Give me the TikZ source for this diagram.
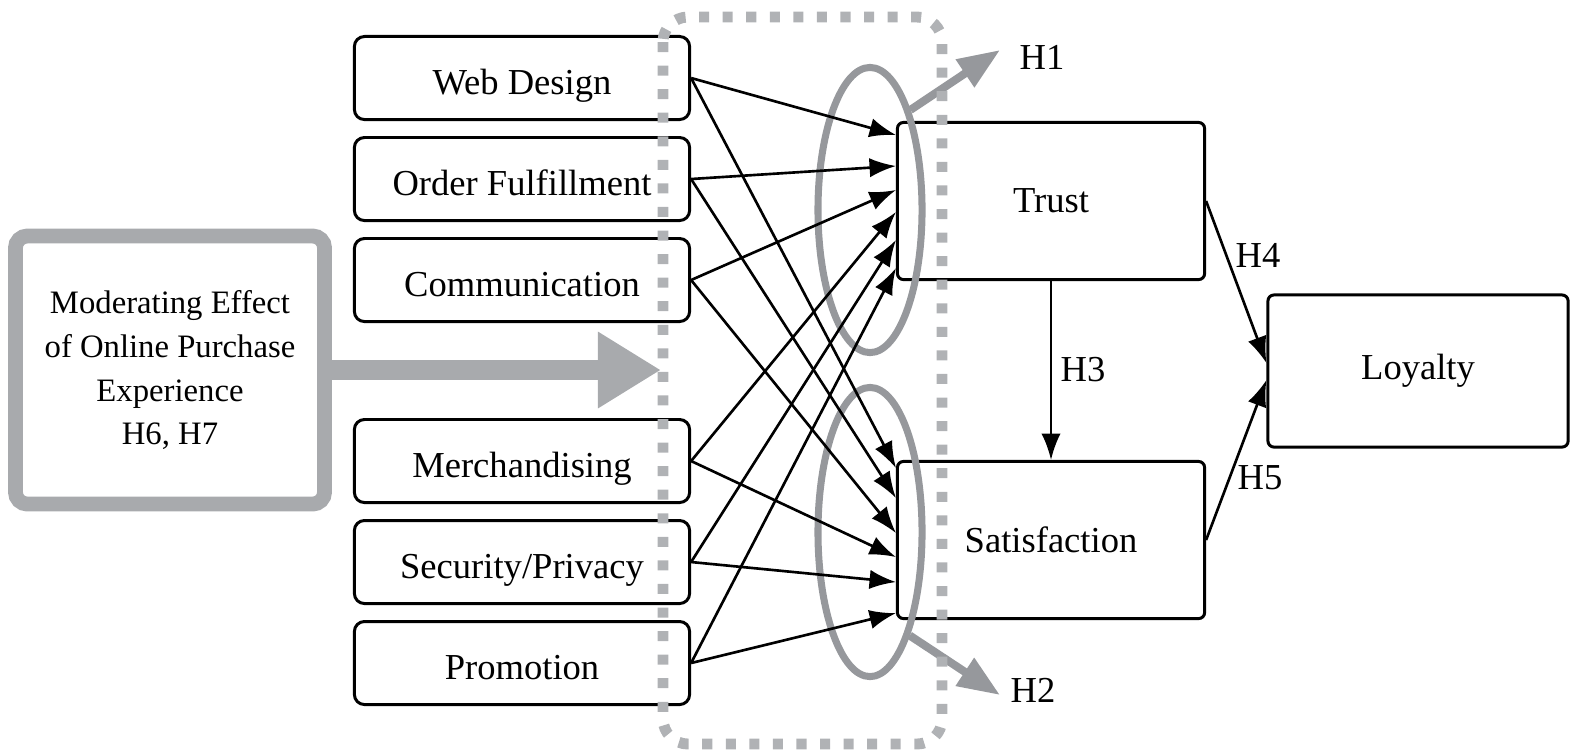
\documentclass[tikz,border=0pt]{standalone}
\usepackage{fontspec}
\setmainfont{Liberation Serif}
\usepackage{tikz}
\usetikzlibrary{calc, arrows.meta, shapes.geometric}
\usepackage{xcolor}
\definecolor{ovalgray}{RGB}{150,152,156}
\definecolor{dotgray}{RGB}{176,178,181}
\definecolor{modgray}{RGB}{168,170,173}

\begin{document}
\begin{tikzpicture}[x=0.01cm, y=-0.01cm, font=\fontsize{10.4}{12.5}\selectfont,
    factor/.style={draw, line width=0.85pt, rounded corners=0.1cm, minimum width=3.35cm, minimum height=0.83cm,
        inner sep=0pt, text height=9.4pt, text depth=0pt},
    construct/.style={draw, line width=0.85pt, rounded corners=0.06cm, minimum width=3.07cm, minimum height=1.57cm},
    link/.style={line width=0.75pt, -{Latex[length=7.5pt, width=5.5pt]}},
    oval/.style={draw=ovalgray, line width=2pt, ellipse, minimum width=1.04cm, minimum height=2.85cm, inner sep=0pt},
    hyp/.style={draw=ovalgray, line width=2.3pt, -{Triangle[length=12pt, width=9pt]}}]
    \useasboundingbox (0,0) rectangle (1571,750);

    \node[factor] (web) at (522,78) {Web Design};
    \node[factor] (order) at (522,179) {Order Fulfillment};
    \node[factor] (comm) at (522,280) {Communication};
    \node[factor] (merch) at (522,461) {Merchandising};
    \node[factor] (secur) at (522,562) {Security/Privacy};
    \node[factor] (promo) at (522,663) {Promotion};

    \node[construct] (trust) at (1051,201) {Trust};
    \node[construct] (satis) at (1051,540) {Satisfaction};
    \node[construct, minimum width=3.0cm, minimum height=1.52cm] (loyal) at (1418,371) {Loyalty};

    \node[draw=modgray, line width=4.2pt, rounded corners=0.12cm, minimum width=3.09cm, minimum height=2.68cm,
        align=center, font=\fontsize{9.3}{12.5}\selectfont] (moder) at (170,370)
        {Moderating Effect\\of Online Purchase\\Experience\\H6, H7};

    \node[oval] (ovtrust) at (870,210) {};
    \node[oval, minimum height=2.89cm] (ovsatis) at (870,532) {};

    \node (h1) at (1042,57) {H1};
    \node (h2) at (1033,690) {H2};
    \node (h3) at (1083,370) {H3};
    \node (h4) at (1258,255) {H4};
    \node (h5) at (1260,478) {H5};

    \coordinate (h1tip) at (1000,50);
    \coordinate (h2tip) at (1000,695);
    \coordinate (modtip) at (661,370);

    \draw[link] (web.east) -- ([yshift=0.66cm]trust.west);
    \draw[link] (order.east) -- ([yshift=0.35cm]trust.west);
    \draw[link] (comm.east) -- ([yshift=0.11cm]trust.west);
    \draw[link] (merch.east) -- ([yshift=-0.11cm]trust.west);
    \draw[link] (secur.east) -- ([yshift=-0.39cm]trust.west);
    \draw[link] (promo.east) -- ([yshift=-0.67cm]trust.west);

    \draw[link] (web.east) -- ([yshift=0.72cm]satis.west);
    \draw[link] (order.east) -- ([yshift=0.42cm]satis.west);
    \draw[link] (comm.east) -- ([yshift=0.07cm]satis.west);
    \draw[link] (merch.east) -- ([yshift=-0.17cm]satis.west);
    \draw[link] (secur.east) -- ([yshift=-0.42cm]satis.west);
    \draw[link] (promo.east) -- ([yshift=-0.73cm]satis.west);

    \draw[link] (trust.south) -- (satis.north);
    \draw[link] (trust.east) -- ([yshift=0.08cm]loyal.west);
    \draw[link] (satis.east) -- ([yshift=-0.09cm]loyal.west);

    \draw[hyp] (ovtrust.68) -- (h1tip);
    \draw[hyp] (ovsatis.-69) -- (h2tip);
    \draw[modgray, line width=0.2cm, -{Triangle[length=0.63cm, width=0.72cm]}] (moder.east) -- (modtip);

    \draw[dotgray, line width=3.1pt, dash pattern=on 2.85pt off 3.85pt, rounded corners=0.25cm] (663,17) rectangle (942,744);
\end{tikzpicture}
\end{document}
